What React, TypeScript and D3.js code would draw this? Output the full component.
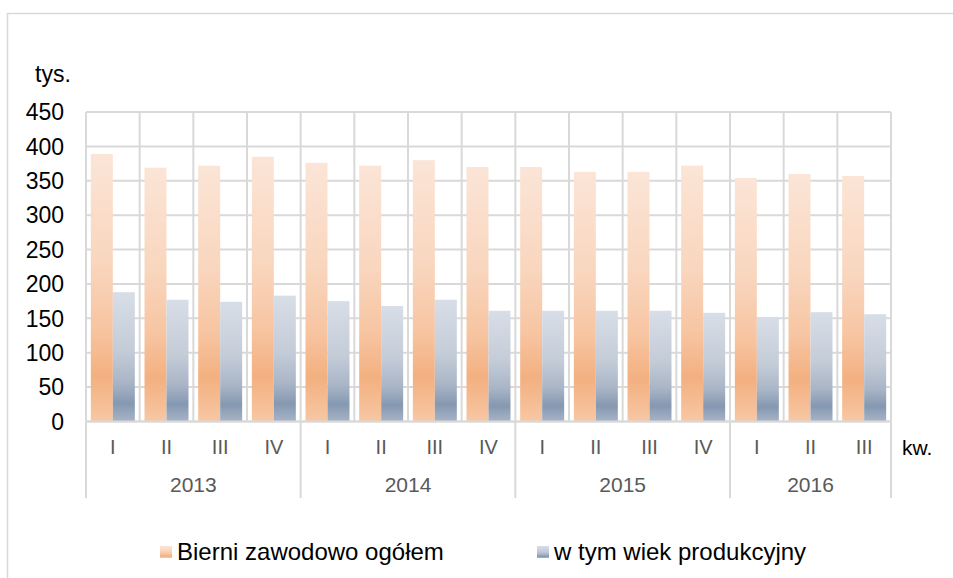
import React, { Component } from "react";
import * as d3 from "d3";

const quarterLabels = ["I", "II", "III", "IV", "I", "II", "III", "IV", "I", "II", "III", "IV", "I", "II", "III"];
const yearLabels = ["2013", "2014", "2015", "2016"];
const quartersInYear = [4, 4, 4, 3];
const bierniOgolem = [389, 369, 372, 385, 376, 372, 380, 370, 370, 363, 363, 372, 354, 360, 357];
const wiekProdukcyjny = [188, 177, 174, 183, 175, 168, 177, 161, 161, 161, 161, 158, 152, 159, 156];
const seriesNames = ["Bierni zawodowo ogółem", "w tym wiek produkcyjny"];
const yTicks = [0, 50, 100, 150, 200, 250, 300, 350, 400, 450];

const FONT = "'Liberation Sans', Arial, sans-serif";
const GRID = "#D9D9D9";

class App extends Component {
  svgRef = React.createRef<SVGSVGElement>();

  componentDidMount() {
    this.componentDidUpdate();
  }

  componentDidUpdate() {
    const w = 953, h = 578;
    const left = 86, right = 891, top = 112, bottom = 421.5;

    const svg = d3.select(this.svgRef.current).attr("width", w).attr("height", h);
    svg.selectAll("*").remove();

    // gradients like the office fill
    const defs = svg.append("defs");
    const grads = [
      { id: "gOrange", stops: [[0, "#FBE5D7"], [0.4, "#F9D6BE"], [0.65, "#F7C5A2"], [0.83, "#F3B080"], [1, "#F7C7A4"]] },
      { id: "gBlue", stops: [[0, "#D8DEE7"], [0.45, "#C4CCD8"], [0.7, "#A9B5C6"], [0.86, "#8598B1"], [1, "#A8B4C6"]] },
    ];
    grads.forEach((g) => {
      const lg = defs.append("linearGradient").attr("id", g.id)
        .attr("x1", 0).attr("y1", 0).attr("x2", 0).attr("y2", 1);
      g.stops.forEach((s) => lg.append("stop").attr("offset", s[0]).attr("stop-color", s[1]));
    });

    // chart frame
    svg.append("rect")
      .attr("x", 7.5).attr("y", 13.5).attr("width", 1000).attr("height", 700)
      .attr("fill", "#fff").attr("stroke", GRID).attr("stroke-width", 1.5);

    const idx = d3.range(quarterLabels.length);
    const x0 = d3.scaleBand<number>().domain(idx).range([left, right]);
    const x1 = d3.scaleBand<number>().domain([0, 1]).range([0, x0.bandwidth()]).paddingOuter(0.22);
    const y = d3.scaleLinear().domain([0, 450]).range([bottom, top]);

    const g = svg.append("g");

    // horizontal gridlines
    g.selectAll(".hgrid")
      .data(yTicks)
      .join("line")
      .attr("class", "hgrid")
      .attr("x1", left).attr("x2", right)
      .attr("y1", (d) => y(d)).attr("y2", (d) => y(d))
      .attr("stroke", GRID).attr("stroke-width", 2);

    // vertical gridlines at category borders
    const borders = idx.map((i) => x0(i) as number).concat([right]);
    g.selectAll(".vgrid")
      .data(borders)
      .join("line")
      .attr("class", "vgrid")
      .attr("x1", (d) => d).attr("x2", (d) => d)
      .attr("y1", top).attr("y2", bottom)
      .attr("stroke", GRID).attr("stroke-width", 2);

    // bars
    const series = [bierniOgolem, wiekProdukcyjny];
    const fills = ["url(#gOrange)", "url(#gBlue)"];
    series.forEach((vals, s) => {
      g.selectAll(".bar" + s)
        .data(vals)
        .join("rect")
        .attr("class", "bar" + s)
        .attr("x", (d, i) => (x0(i) as number) + (x1(s) as number))
        .attr("y", (d) => y(d))
        .attr("width", x1.bandwidth())
        .attr("height", (d) => bottom - y(d))
        .attr("fill", fills[s]);
    });

    // zero axis line
    g.append("line")
      .attr("x1", left).attr("x2", right).attr("y1", bottom).attr("y2", bottom)
      .attr("stroke", GRID).attr("stroke-width", 2);

    // year separators below the axis
    const yearEdges = [left];
    let acc = 0;
    quartersInYear.forEach((n) => {
      acc += n;
      yearEdges.push(acc < idx.length ? (x0(acc) as number) : right);
    });
    g.selectAll(".ysep")
      .data(yearEdges)
      .join("line")
      .attr("class", "ysep")
      .attr("x1", (d) => d).attr("x2", (d) => d)
      .attr("y1", bottom).attr("y2", 498)
      .attr("stroke", GRID).attr("stroke-width", 2);

    // y tick labels
    g.selectAll(".ylab")
      .data(yTicks)
      .join("text")
      .attr("class", "ylab")
      .attr("x", 64)
      .attr("y", (d) => y(d))
      .attr("dy", "0.36em")
      .attr("text-anchor", "end")
      .attr("font-family", FONT).attr("font-size", 23).attr("fill", "#000")
      .text((d) => d);

    g.append("text")
      .attr("x", 35).attr("y", 82)
      .attr("font-family", FONT).attr("font-size", 23).attr("fill", "#000")
      .text("tys.");

    // quarter labels
    g.selectAll(".qlab")
      .data(quarterLabels)
      .join("text")
      .attr("class", "qlab")
      .attr("x", (d, i) => (x0(i) as number) + x0.bandwidth() / 2)
      .attr("y", 454)
      .attr("text-anchor", "middle")
      .attr("font-family", FONT).attr("font-size", 20).attr("fill", "#595959")
      .text((d) => d);

    // year labels
    g.selectAll(".yrlab")
      .data(yearLabels)
      .join("text")
      .attr("class", "yrlab")
      .attr("x", (d, i) => (yearEdges[i] + yearEdges[i + 1]) / 2)
      .attr("y", 492)
      .attr("text-anchor", "middle")
      .attr("font-family", FONT).attr("font-size", 21).attr("fill", "#595959")
      .text((d) => d);

    g.append("text")
      .attr("x", 902).attr("y", 455)
      .attr("font-family", FONT).attr("font-size", 21).attr("fill", "#000")
      .text("kw.");

    // legend
    const legendX = [160, 537];
    seriesNames.forEach((name, s) => {
      g.append("rect")
        .attr("x", legendX[s]).attr("y", 546)
        .attr("width", 12).attr("height", 12)
        .attr("fill", fills[s]);
      g.append("text")
        .attr("x", legendX[s] + 17).attr("y", 560)
        .attr("font-family", FONT).attr("font-size", 24).attr("fill", "#000")
        .text(name);
    });
  }

  render() {
    return (
      <div style={{ position: "absolute", left: 0, top: 0 }}>
        <svg ref={this.svgRef} style={{ display: "block" }}></svg>
      </div>
    );
  }
}

export default App;
